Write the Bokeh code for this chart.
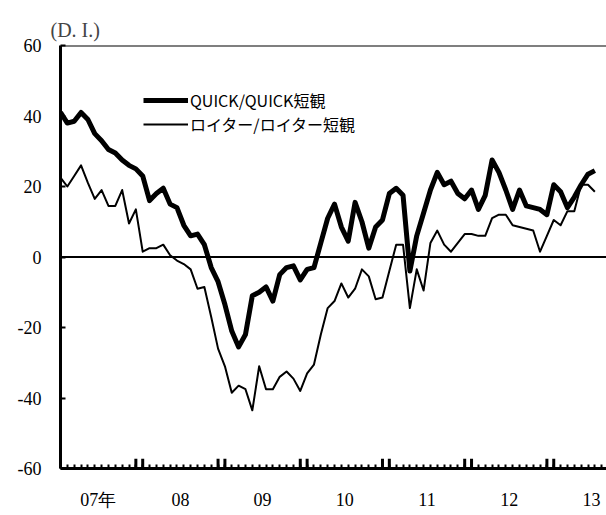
from bokeh.plotting import figure
from bokeh.models import FixedTicker, Span, Legend, LegendItem
from bokeh.embed import file_html
from bokeh.resources import INLINE

# Monthly data, Jan 2007 (index 0) .. Jul 2013 (index 78)
quick = [41, 38, 38.5, 41, 39, 35, 33, 30.5, 29.5, 27.5, 26, 25,
         23, 16, 18, 19.5, 15, 14, 9, 6, 6.5, 3.5, -3, -7,
         -13.5, -21, -25.5, -22, -11, -10, -8.5, -12.5, -5, -3, -2.5, -6.5,
         -3.5, -3, 4, 11, 15, 8.5, 4.5, 15.5, 10, 2.5, 8.5, 10.5,
         18, 19.5, 17.5, -4, 6, 12.5, 19, 24, 20.5, 21.5, 18, 16.5,
         19, 13.5, 17.5, 27.5, 24, 19, 13.5, 19, 14.5, 14, 13.5, 12,
         20.5, 18.5, 14, 17, 20.5, 23.5, 24.5]
reuters = [22.5, 20, 23, 26, 21, 16.5, 19, 14.5, 14.5, 19, 9.5, 13.5,
           1.5, 2.5, 2.5, 3.5, 0.5, -1, -2, -3.5, -9, -8.5, -17, -26,
           -31, -38.5, -36.5, -37.5, -43.5, -31, -37.5, -37.5, -34, -32.5, -34.5, -38,
           -33, -30.5, -22, -14.5, -12.5, -7.5, -11.5, -9, -3.5, -5.5, -12, -11.5,
           -4, 3.5, 3.5, -14.5, -3.5, -9.5, 4, 7.5, 3.5, 1.5, 4, 6.5,
           6.5, 6, 6, 11, 12, 12, 9, 8.5, 8, 7.5, 1.5, 6,
           10.5, 9, 13, 13, 20.5, 20.5, 18.5]
months = list(range(len(quick)))

year_labels = ["07年", "08", "09", "10", "11", "12", "13"]
y_ticks = [-60, -40, -20, 0, 20, 40, 60]
series_names = ["QUICK/QUICK短観", "ロイター/ロイター短観"]
unit_label = "(D. I.)"
n_axis_months = 80

p = figure(width=606, height=512, output_backend="svg", toolbar_location=None,
           x_range=(0, 79.7), y_range=(-60, 60),
           min_border_left=60, min_border_right=0, min_border_top=45, min_border_bottom=35)
p.grid.visible = False
p.outline_line_color = None
p.background_fill_color = "white"
p.border_fill_color = "white"

# unit label "(D. I.)" as a left-aligned title
p.title.text = unit_label
p.title.text_font = "Liberation Serif"
p.title.text_font_size = "20px"
p.title.text_font_style = "normal"
p.title.align = "left"
p.title.offset = -10

# x axis
mid_years = [5.5 + 12 * i for i in range(len(year_labels))]
xa = p.xaxis[0]
xa.ticker = FixedTicker(ticks=mid_years, minor_ticks=list(range(n_axis_months)))
xa.major_label_overrides = {m: lab for m, lab in zip(mid_years, year_labels)}
xa.major_tick_in = 0
xa.major_tick_out = 0
xa.minor_tick_in = 4
xa.minor_tick_out = 0
xa.minor_tick_line_width = 2
xa.axis_line_width = 3
xa.major_label_standoff = 21
xa.major_label_text_font = "Liberation Serif"
xa.major_label_text_font_size = "18px"
xa.major_label_text_color = "black"

# y axis
ya = p.yaxis[0]
ya.ticker = FixedTicker(ticks=y_ticks, minor_ticks=[])
ya.major_label_overrides = {t: str(t) for t in y_ticks}
ya.major_tick_in = 5
ya.major_tick_out = 0
ya.major_tick_line_width = 2
ya.axis_line_width = 3
ya.major_label_standoff = 19
ya.major_label_text_font = "Liberation Serif"
ya.major_label_text_font_size = "18px"
ya.major_label_text_color = "black"

# top border and zero line
p.add_layout(Span(location=60, dimension="width", line_color="black", line_width=2))
p.add_layout(Span(location=0, dimension="width", line_color="black", line_width=2))

# tall year-boundary ticks (Dec and Jan)
tall = [0] + [m for y in range(1, 7) for m in (12 * y - 1, 12 * y)]
p.segment(x0=tall, y0=[-60] * len(tall), x1=tall, y1=[-57.2] * len(tall),
          line_color="black", line_width=3)

r1 = p.line(months, quick, line_color="black", line_width=5, line_join="round")
r2 = p.line(months, reuters, line_color="black", line_width=2, line_join="round")

legend = Legend(items=[LegendItem(label=series_names[0], renderers=[r1]),
                       LegendItem(label=series_names[1], renderers=[r2])],
                location=(83, 332), glyph_width=45, glyph_height=22,
                label_height=22, spacing=0, padding=0, margin=0,
                label_standoff=2, border_line_color=None,
                background_fill_alpha=0,
                label_text_font="Noto Sans CJK JP", label_text_font_size="16px",
                label_text_color="black")
p.add_layout(legend)

open("out.html", "w").write(file_html(p, INLINE))
